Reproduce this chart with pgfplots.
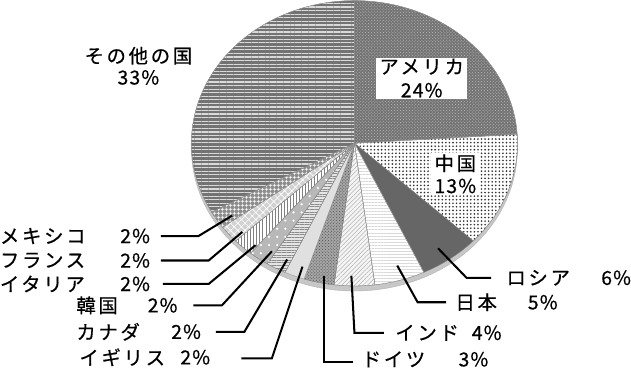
\documentclass[border=0pt]{standalone}
\usepackage{pgfplots}
\pgfplotsset{compat=1.18}
\usetikzlibrary{patterns,patterns.meta}
\usepackage{fontspec}
\setmainfont{Noto Sans CJK JP}[LetterSpace=14, FakeBold=0.5]
% slice: #1 = cumulative percent before the slice, #2 = percent of the slice, #3 = style
\newcommand{\slice}[3]{%
  \addplot[#3, draw=black!45, line width=0.3pt, domain={90-3.6*(#1+#2)}:{90-3.6*(#1)}, samples=60]
    ({353+160*cos(x)},{142-140*sin(x)}) -- (axis cs:353,142) -- cycle;}
\newcommand{\pct}[1]{{\addfontfeatures{LetterSpace=6}#1}}
\begin{document}
\begin{tikzpicture}[
  lbl/.style={anchor=west, inner sep=0pt, font=\fontsize{19}{22}\selectfont},
]
\begin{axis}[
  scale only axis, width=631pt, height=366pt,
  xmin=0, xmax=631, ymin=0, ymax=366, y dir=reverse,
  hide axis, clip=false,
]
% rim of the pie
\addplot[fill=black!22, draw=black!30, domain=0:360, samples=120]
  ({353+160*cos(x)},{147-140*sin(x)}) -- cycle;
% slices (percent values): USA 24, China 13, Russia 6, Japan 5, India 4, Germany 3,
% UK 2, Canada 2, Korea 2, Italy 2, France 2, Mexico 2, Others 33
\slice{0}{24}{fill=black!55, postaction={pattern=crosshatch dots, pattern color=black!25}}
\slice{24}{13}{fill=white, postaction={pattern={Dots[radius=0.9pt,distance=3.5pt]}, pattern color=black!80}}
\slice{37}{6}{fill=black!60}
\slice{43}{5}{fill=white, postaction={pattern={Lines[angle=0,distance=3pt,line width=0.5pt]}, pattern color=black!15}}
\slice{48}{4}{fill=black!4, postaction={pattern={Lines[angle=45,distance=3pt,line width=0.5pt]}, pattern color=black!30}}
\slice{52}{3}{fill=black!35, postaction={pattern=crosshatch dots, pattern color=black!70}}
\slice{55}{2}{fill=black!12}
\slice{57}{2}{fill=black!10, postaction={pattern={Lines[angle=0,distance=2.5pt,line width=0.8pt]}, pattern color=black!45}}
\slice{59}{2}{fill=black!28, postaction={pattern={Dots[radius=1.2pt,distance=8pt]}, pattern color=white}}
\slice{61}{2}{fill=white, postaction={pattern={Lines[angle=90,distance=3pt,line width=0.9pt]}, pattern color=black!50}}
\slice{63}{2}{fill=black!18, postaction={pattern={Hatch[angle=45,distance=5pt,line width=0.6pt]}, pattern color=white}}
\slice{65}{2}{fill=black!45, postaction={pattern={Hatch[angle=0,distance=4pt,line width=0.8pt]}, pattern color=white}}
\slice{67}{33}{fill=black!55, postaction={pattern={Lines[angle=0,distance=3.5pt,line width=1.2pt]}, pattern color=black!15}}
% leader lines
\addplot[draw=black, line width=2pt, mark=none] coordinates {(163,233) (200,233) (233,213)};
\addplot[draw=black, line width=2pt, mark=none] coordinates {(163,257) (210,257) (243,229)};
\addplot[draw=black, line width=2pt, mark=none] coordinates {(165,280) (210,280) (256,242)};
\addplot[draw=black, line width=2pt, mark=none] coordinates {(195,301) (223,301) (272,248)};
\addplot[draw=black, line width=2pt, mark=none] coordinates {(217,327) (245,327) (287,256)};
\addplot[draw=black, line width=2pt, mark=none] coordinates {(242,353) (272,353) (302,263)};
\addplot[draw=black, line width=2pt, mark=none] coordinates {(352,357) (323,357) (323,272)};
\addplot[draw=black, line width=2pt, mark=none] coordinates {(382,328) (353,328) (350,272)};
\addplot[draw=black, line width=2pt, mark=none] coordinates {(443,298) (415,298) (395,262)};
\addplot[draw=black, line width=2pt, mark=none] coordinates {(487,274) (463,274) (435,245)};
% labels inside
\node[fill=white, inner xsep=3pt, inner ysep=1pt, align=center, font=\fontsize{19}{23}\selectfont] at (419,78) {アメリカ\\\pct{24\%}};
\node[fill=white, inner xsep=3pt, inner ysep=1pt, align=center, font=\fontsize{19}{22}\selectfont] at (452,172) {中国\\\pct{13\%}};
\node[inner sep=0pt, align=center, font=\fontsize{19}{21}\selectfont] at (141,66) {その他の国\\\pct{33\%}};
% labels outside
\node[lbl] at (5,233) {メキシコ}; \node[lbl] at (123,233) {\pct{2\%}};
\node[lbl] at (5,257) {フランス}; \node[lbl] at (123,257) {\pct{2\%}};
\node[lbl] at (5,280) {イタリア}; \node[lbl] at (123,280) {\pct{2\%}};
\node[lbl] at (80,301) {韓国}; \node[lbl] at (150,301) {\pct{2\%}};
\node[lbl] at (80,327) {カナダ}; \node[lbl] at (173,327) {\pct{2\%}};
\node[lbl] at (83,352) {イギリス}; \node[lbl] at (182,352) {\pct{2\%}};
\node[lbl] at (502,274) {ロシア}; \node[lbl] at (595,274) {\pct{6\%}};
\node[lbl] at (452,298) {日本}; \node[lbl] at (523,298) {\pct{5\%}};
\node[lbl] at (393,328) {インド}; \node[lbl] at (468,328) {\pct{4\%}};
\node[lbl] at (360,354) {ドイツ}; \node[lbl] at (455,354) {\pct{3\%}};
\end{axis}
\end{tikzpicture}
\end{document}
